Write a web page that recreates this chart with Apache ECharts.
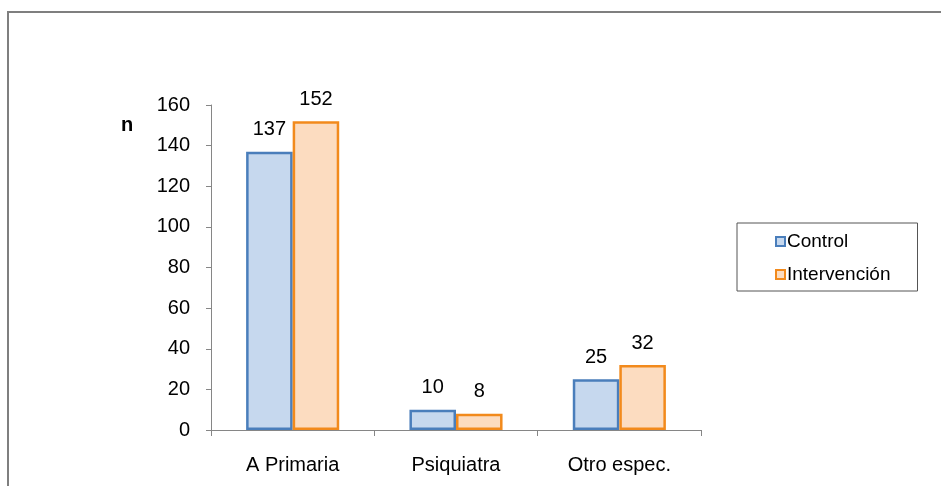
<!DOCTYPE html>
<html>
<head>
<meta charset="utf-8">
<script src="https://cdn.jsdelivr.net/npm/echarts@6/dist/echarts.min.js"></script>
<style>
  html, body { margin: 0; padding: 0; background: #fff; }
  #chart { width: 941px; height: 486px; }
</style>
</head>
<body>
<div id="chart"></div>
<script>
// Derivaciones por tipo de profesional
const categories = ['A Primaria', 'Psiquiatra', 'Otro espec.'];
const controlValues = [137, 10, 25];
const intervencionValues = [152, 8, 32];
const yTicks = [0, 20, 40, 60, 80, 100, 120, 140, 160];

const font = 'Liberation Sans, Arial, sans-serif';
const chart = echarts.init(document.getElementById('chart'), null, { renderer: 'canvas' });

const labelStyle = {
  show: true,
  position: 'top',
  distance: 12,
  color: '#000',
  fontFamily: font,
  fontSize: 20
};

chart.setOption({
  animation: false,
  backgroundColor: '#fff',
  graphic: [{
    type: 'rect',
    shape: { x: 8, y: 12, width: 1000, height: 600 },
    style: { fill: 'none', stroke: '#7f7f7f', lineWidth: 2 },
    silent: true
  }, {
    type: 'text',
    left: 121,
    top: 115,
    style: { text: 'n', font: 'bold 20px ' + font, fill: '#000' }
  }],
  grid: { left: 211, right: 240, top: 105, bottom: 56 },
  legend: {
    orient: 'vertical',
    left: 737,
    top: 223,
    padding: [9, 27, 7, 38],
    itemGap: 14,
    itemWidth: 9,
    itemHeight: 9,
    borderColor: '#555',
    borderWidth: 1,
    textStyle: { color: '#000', fontFamily: font, fontSize: 19, padding: [0, 0, 0, -3], lineHeight: 19 },
    data: [
      { name: 'Control', icon: 'rect' },
      { name: 'Intervención', icon: 'rect' }
    ]
  },
  xAxis: {
    type: 'category',
    data: categories,
    axisLine: { lineStyle: { color: '#868686', width: 1 } },
    axisTick: { show: true, length: 6, alignWithLabel: false, lineStyle: { color: '#868686' } },
    axisLabel: { color: '#000', fontFamily: font, fontSize: 20, margin: 25 }
  },
  yAxis: {
    type: 'value',
    min: yTicks[0],
    max: yTicks[yTicks.length - 1],
    interval: yTicks[1] - yTicks[0],
    splitLine: { show: false },
    axisLine: { show: true, lineStyle: { color: '#868686', width: 1 } },
    axisTick: { show: true, length: 5, lineStyle: { color: '#868686' } },
    axisLabel: { color: '#000', fontFamily: font, fontSize: 20, margin: 21 }
  },
  series: [{
    name: 'Control',
    type: 'bar',
    data: controlValues,
    barGap: '0%',
    barCategoryGap: '43%',
    itemStyle: { color: '#c6d8ee', borderColor: '#4a7ebb', borderWidth: 2.5 },
    label: labelStyle
  }, {
    name: 'Intervención',
    type: 'bar',
    data: intervencionValues,
    barGap: '0%',
    barCategoryGap: '43%',
    itemStyle: { color: '#fcdcc0', borderColor: '#f28a1c', borderWidth: 2.5 },
    label: labelStyle
  }]
});
</script>
</body>
</html>
